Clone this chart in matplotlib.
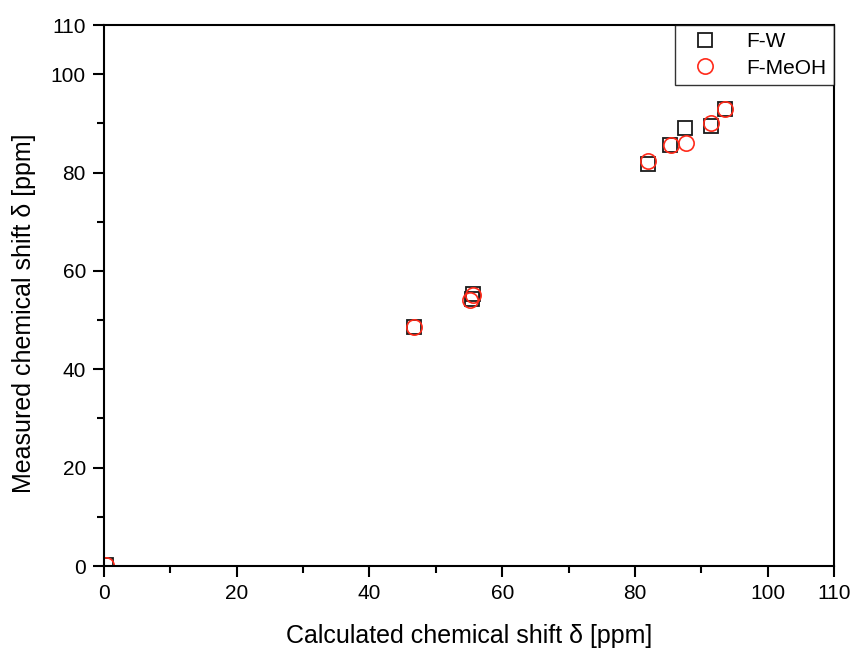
import matplotlib
matplotlib.use("Agg")
import matplotlib.pyplot as plt

plt.rcParams['font.family'] = ['Liberation Sans', 'DejaVu Sans']

fw_x = [0.3, 46.7, 55.6, 55.4, 82.0, 85.3, 87.5, 91.4, 93.6]
fw_y = [0.3, 48.6, 55.4, 54.3, 81.7, 85.7, 89.0, 89.4, 93.0]
fm_x = [0.3, 46.7, 55.6, 55.2, 82.0, 85.4, 87.7, 91.4, 93.6]
fm_y = [0.3, 48.6, 55.2, 54.1, 82.3, 85.6, 86.0, 90.0, 92.9]

major = [0, 20, 40, 60, 80, 100, 110]
minor = [10, 30, 50, 70, 90]

fig = plt.figure(figsize=(8.54, 6.48), dpi=100)
ax = fig.add_axes([0.1218, 0.1265, 0.8548, 0.8349])

ax.plot(fw_x, fw_y, linestyle='none', marker='s', markersize=10,
        markerfacecolor='none', markeredgecolor='#1a1a1a', markeredgewidth=1.3,
        label='F-W', clip_on=True)
ax.plot(fm_x, fm_y, linestyle='none', marker='o', markersize=11,
        markerfacecolor='none', markeredgecolor='#ff2a1a', markeredgewidth=1.2,
        label='F-MeOH', clip_on=True)

ax.set_xlim(0, 110)
ax.set_ylim(0, 110)
ax.set_xticks(major)
ax.set_yticks(major)
ax.set_xticks(minor, minor=True)
ax.set_yticks(minor, minor=True)
ax.tick_params(which='major', direction='out', length=8, width=1.5, labelsize=15, pad=5)
ax.tick_params(which='minor', direction='out', length=5, width=1.5)
for s in ax.spines.values():
    s.set_linewidth(1.5)

ax.set_xlabel('Calculated chemical shift δ [ppm]', fontsize=18, labelpad=15)
ax.set_ylabel('Measured chemical shift δ [ppm]', fontsize=18)
ax.yaxis.set_label_coords(-0.093, 0.4677)

leg = ax.legend(loc='upper right', fontsize=15, frameon=True, fancybox=False,
                borderaxespad=0, handletextpad=0.9, borderpad=0.35, labelspacing=0.35,
                handlelength=2.2)
leg.get_frame().set_edgecolor('black')
leg.get_frame().set_linewidth(1.0)

fig.savefig('out.png', dpi=100)
